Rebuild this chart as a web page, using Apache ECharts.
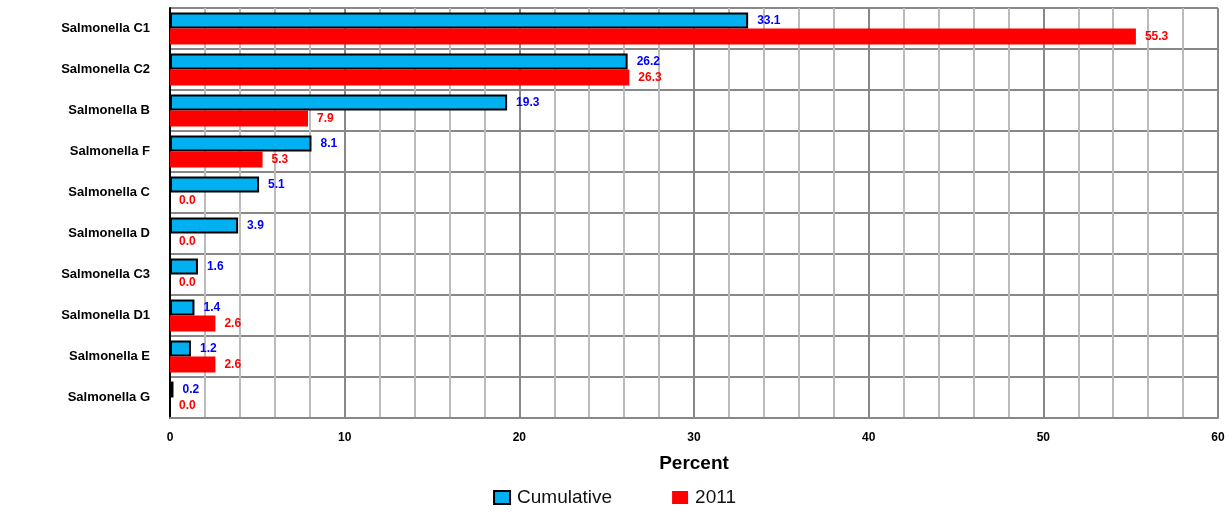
<!DOCTYPE html>
<html>
<head>
<meta charset="utf-8">
<script src="https://cdn.jsdelivr.net/npm/echarts@6/dist/echarts.min.js"></script>
<style>
  html, body { margin: 0; padding: 0; background: #fff; }
  #chart { width: 1229px; height: 516px; }
</style>
</head>
<body>
<div id="chart"></div>
<script>
// 数据
const categories = ['Salmonella C1', 'Salmonella C2', 'Salmonella B', 'Salmonella F', 'Salmonella C',
  'Salmonella D', 'Salmonella C3', 'Salmonella D1', 'Salmonella E', 'Salmonella G'];
const cumulative = [33.1, 26.2, 19.3, 8.1, 5.1, 3.9, 1.6, 1.4, 1.2, 0.2];
const year2011 = [55.3, 26.3, 7.9, 5.3, 0.0, 0.0, 0.0, 2.6, 2.6, 0.0];
const xTicks = [0, 10, 20, 30, 40, 50, 60];

const myChart = echarts.init(document.getElementById('chart'));
const font = 'Liberation Sans, Arial, sans-serif';

myChart.setOption({
  animation: false,
  grid: { left: 170, right: 11, top: 8, bottom: 98 },
  legend: {
    bottom: 4,
    left: 'center',
    icon: 'rect',
    itemWidth: 16,
    itemHeight: 13,
    itemGap: 60,
    textStyle: { fontFamily: font, fontSize: 19, color: '#111', padding: [0, 0, 0, 2] },
    data: [
      { name: 'Cumulative', itemStyle: { borderColor: '#000', borderWidth: 2 } },
      { name: '2011', itemStyle: { borderWidth: 0 } }
    ]
  },
  xAxis: {
    type: 'value',
    min: xTicks[0],
    max: xTicks[xTicks.length - 1],
    interval: 10,
    name: 'Percent',
    nameLocation: 'middle',
    nameGap: 36,
    nameTextStyle: { fontFamily: font, fontSize: 19, fontWeight: 'bold', color: '#000' },
    axisLine: { show: true, lineStyle: { color: '#888', width: 2 } },
    axisTick: { show: false },
    axisLabel: { fontFamily: font, fontSize: 12, fontWeight: 'bold', color: '#000', margin: 14 },
    splitLine: { show: true, lineStyle: { color: '#888', width: 2 } },
    minorTick: { show: false, splitNumber: 5 },
    minorSplitLine: { show: true, lineStyle: { color: '#bbb', width: 2 } }
  },
  yAxis: {
    type: 'category',
    inverse: true,
    data: categories,
    axisLine: { show: true, lineStyle: { color: '#000', width: 2 } },
    axisTick: { show: false },
    axisLabel: { fontFamily: font, fontSize: 13, fontWeight: 'bold', color: '#000', margin: 20 },
    splitLine: { show: true, interval: 0, lineStyle: { color: '#888', width: 2 } }
  },
  series: [
    {
      name: 'Cumulative',
      type: 'bar',
      data: cumulative,
      barWidth: 16,
      barGap: '0%',
      itemStyle: { color: '#00b0f0', borderColor: '#000', borderWidth: 2 },
      label: {
        show: true, position: 'right', distance: 9,
        formatter: p => p.value.toFixed(1),
        fontFamily: font, fontSize: 12, fontWeight: 'bold', color: '#0000ff'
      }
    },
    {
      name: '2011',
      type: 'bar',
      data: year2011,
      barWidth: 16,
      itemStyle: { color: '#ff0000' },
      label: {
        show: true, position: 'right', distance: 9,
        formatter: p => p.value.toFixed(1),
        fontFamily: font, fontSize: 12, fontWeight: 'bold', color: '#ff0000'
      }
    }
  ]
});
</script>
</body>
</html>
